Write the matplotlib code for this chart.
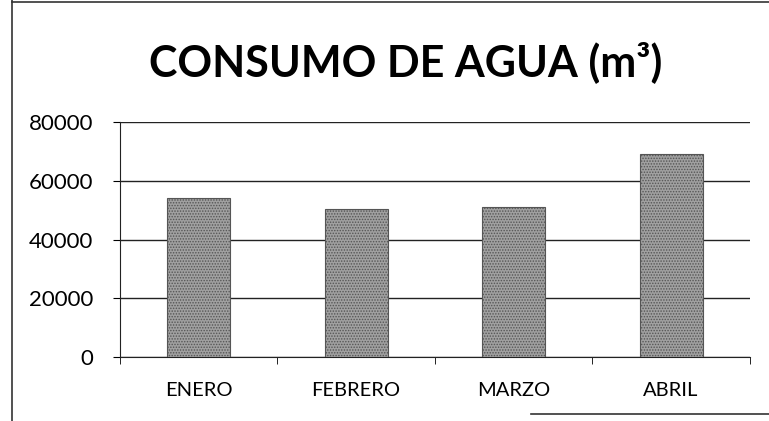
import matplotlib.pyplot as plt
import numpy as np

# Datos
meses = ['ENERO', 'FEBRERO', 'MARZO', 'ABRIL']
consumo = [54000, 50500, 51000, 69000]
ticks_y = [0, 20000, 40000, 60000, 80000]

plt.rcParams['font.family'] = ['Lato', 'DejaVu Sans']
plt.rcParams['hatch.linewidth'] = 0.7
plt.rcParams['hatch.color'] = '#404040'

fig = plt.figure(figsize=(7.69, 4.21), dpi=100)
ax = fig.add_axes([0.156, 0.152, 0.819, 0.558])

x = np.arange(len(meses))
ax.bar(x, consumo, width=0.4, color='#a0a0a0', edgecolor='#555555',
       hatch='......', linewidth=0.8, zorder=3)

ax.set_ylim(0, 80000)
ax.set_xlim(-0.5, len(meses) - 0.5)
ax.set_yticks(ticks_y)
ax.set_yticklabels([str(v) for v in ticks_y], fontsize=16)
ax.set_xticks(x)
ax.set_xticklabels(meses, fontsize=14.5)
ax.tick_params(axis='x', length=0, pad=18)
ax.set_xticks(np.arange(-0.5, len(meses)), minor=True)
ax.tick_params(axis='x', which='minor', length=5, direction='out')
ax.tick_params(axis='y', length=5, direction='out', pad=14)

ax.grid(axis='y', color='#222222', linewidth=1.0, zorder=0)
for lado in ['top', 'right']:
    ax.spines[lado].set_visible(False)
ax.spines['left'].set_color('#222222')
ax.spines['bottom'].set_color('#222222')

fig.text(0.528, 0.852, 'CONSUMO DE AGUA (m³)', ha='center', va='center',
         fontsize=31, fontweight='bold')

# Marco del escaneo
fig.add_artist(plt.Line2D([0.016, 0.016], [0, 1], color='#333333', linewidth=1.2))
fig.add_artist(plt.Line2D([0.016, 1], [0.995, 0.995], color='#333333', linewidth=1.2))
fig.add_artist(plt.Line2D([0.69, 1], [0.017, 0.017], color='#333333', linewidth=1.2))

fig.savefig('out.png', dpi=100)
